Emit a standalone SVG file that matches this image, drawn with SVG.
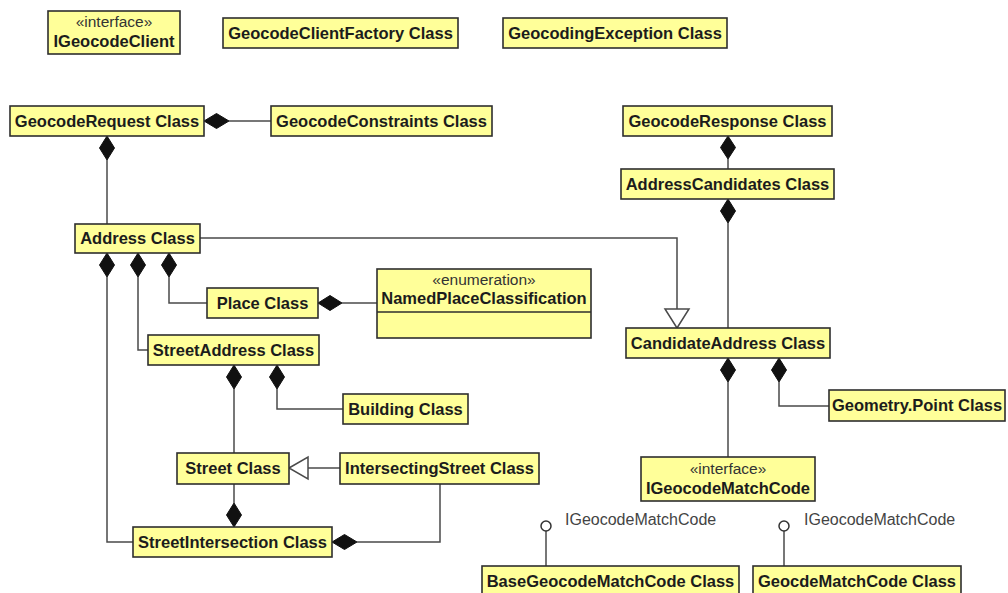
<svg xmlns="http://www.w3.org/2000/svg" width="1008" height="593" viewBox="0 0 1008 593">
<style>
.box{fill:#ffff99;stroke:#2e2e2e;stroke-width:1.6}
.n{font-family:"Liberation Sans",Arial,sans-serif;font-weight:bold;font-size:16.5px;fill:#1c1c1c;text-anchor:middle}
.st{font-family:"Liberation Sans",Arial,sans-serif;font-size:15.5px;fill:#333;text-anchor:middle}
.lbl{font-family:"Liberation Sans",Arial,sans-serif;font-size:16px;fill:#444}
.ln{fill:none;stroke:#4a4a4a;stroke-width:1.5}
.dia{fill:#111;stroke:#111;stroke-width:1}
.gen{fill:#fff;stroke:#4a4a4a;stroke-width:1.5}
.lol{fill:#fff;stroke:#333;stroke-width:1.5}
</style>
<rect width="1008" height="593" fill="#fff"/>
<g id="connectors">
  <polygon class="dia" points="204,121 216.5,113.5 229,121 216.5,128.5"/>
  <path class="ln" d="M229,121H271"/>
  <polygon class="dia" points="107,136 114.5,148 107,160 99.5,148"/>
  <path class="ln" d="M107,160V224"/>
  <polygon class="dia" points="728,136 735.5,147.5 728,159 720.5,147.5"/>
  <path class="ln" d="M728,159V169"/>
  <polygon class="dia" points="728,199 735.5,211 728,223 720.5,211"/>
  <path class="ln" d="M728,223V328"/>
  <path class="ln" d="M200,238H677V309"/>
  <polygon class="gen" points="665,309 689,309 677,328"/>
  <polygon class="dia" points="107,253 114.5,265 107,277 99.5,265"/>
  <path class="ln" d="M107,277V542H133"/>
  <polygon class="dia" points="138,253 145.5,265 138,277 130.5,265"/>
  <path class="ln" d="M138,277V350H148"/>
  <polygon class="dia" points="169,253 176.5,265 169,277 161.5,265"/>
  <path class="ln" d="M169,277V303H207"/>
  <polygon class="dia" points="318,303 330,295.5 342,303 330,310.5"/>
  <path class="ln" d="M342,303H377"/>
  <polygon class="dia" points="234,365 241.5,377 234,389 226.5,377"/>
  <path class="ln" d="M234,389V453"/>
  <polygon class="dia" points="277,365 284.5,377 277,389 269.5,377"/>
  <path class="ln" d="M277,389V409H343"/>
  <path class="ln" d="M308,468H340"/>
  <polygon class="gen" points="289,468 308,457 308,479"/>
  <path class="ln" d="M234,484V503"/>
  <polygon class="dia" points="234,503 241.5,515 234,527 226.5,515"/>
  <path class="ln" d="M440,484V542H357"/>
  <polygon class="dia" points="332,542 344.5,534.5 357,542 344.5,549.5"/>
  <polygon class="dia" points="728,358 735.5,370 728,382 720.5,370"/>
  <path class="ln" d="M728,382V457"/>
  <polygon class="dia" points="779,358 786.5,370 779,382 771.5,370"/>
  <path class="ln" d="M779,382V406H829"/>
  <path class="ln" d="M546,531V566"/>
  <circle class="lol" cx="546" cy="526" r="5"/>
  <text class="lbl" x="565" y="525">IGeocodeMatchCode</text>
  <path class="ln" d="M784,531V566"/>
  <circle class="lol" cx="784" cy="526" r="5"/>
  <text class="lbl" x="804" y="525">IGeocodeMatchCode</text>
</g>
<g id="IGeocodeClient">
  <rect class="box" x="48" y="11" width="132" height="43"/>
  <text class="st" x="114" y="27">«interface»</text>
  <text class="n" x="114" y="46.5">IGeocodeClient</text>
</g>
<g id="GeocodeClientFactory">
  <rect class="box" x="223" y="18" width="235" height="30"/>
  <text class="n" x="340.5" y="38.5">GeocodeClientFactory Class</text>
</g>
<g id="GeocodingException">
  <rect class="box" x="503" y="18" width="224" height="30"/>
  <text class="n" x="615" y="38.5">GeocodingException Class</text>
</g>
<g id="GeocodeRequest">
  <rect class="box" x="10" y="106" width="194" height="30"/>
  <text class="n" x="107" y="126.5">GeocodeRequest Class</text>
</g>
<g id="GeocodeConstraints">
  <rect class="box" x="271" y="106" width="221" height="30"/>
  <text class="n" x="381.5" y="126.5">GeocodeConstraints Class</text>
</g>
<g id="GeocodeResponse">
  <rect class="box" x="623" y="106" width="209" height="30"/>
  <text class="n" x="727.5" y="126.5">GeocodeResponse Class</text>
</g>
<g id="AddressCandidates">
  <rect class="box" x="621" y="169" width="213" height="30"/>
  <text class="n" x="727.5" y="189.5">AddressCandidates Class</text>
</g>
<g id="Address">
  <rect class="box" x="75" y="224" width="125" height="29"/>
  <text class="n" x="137.5" y="244">Address Class</text>
</g>
<g id="Place">
  <rect class="box" x="207" y="288" width="111" height="30"/>
  <text class="n" x="262.5" y="308.5">Place Class</text>
</g>
<g id="NamedPlaceClassification">
  <rect class="box" x="377" y="269" width="214" height="69"/>
  <path d="M377,312H591" stroke="#2e2e2e" stroke-width="1.6"/>
  <text class="st" x="484" y="285">«enumeration»</text>
  <text class="n" x="484" y="304">NamedPlaceClassification</text>
</g>
<g id="StreetAddress">
  <rect class="box" x="148" y="335" width="171" height="30"/>
  <text class="n" x="233.5" y="355.5">StreetAddress Class</text>
</g>
<g id="Building">
  <rect class="box" x="343" y="394" width="125" height="30"/>
  <text class="n" x="405.5" y="414.5">Building Class</text>
</g>
<g id="Street">
  <rect class="box" x="177" y="453" width="112" height="31"/>
  <text class="n" x="233" y="474">Street Class</text>
</g>
<g id="IntersectingStreet">
  <rect class="box" x="340" y="453" width="199" height="31"/>
  <text class="n" x="439.5" y="474">IntersectingStreet Class</text>
</g>
<g id="StreetIntersection">
  <rect class="box" x="133" y="527" width="199" height="30"/>
  <text class="n" x="232.5" y="547.5">StreetIntersection Class</text>
</g>
<g id="CandidateAddress">
  <rect class="box" x="626" y="328" width="204" height="30"/>
  <text class="n" x="728" y="348.5">CandidateAddress Class</text>
</g>
<g id="GeometryPoint">
  <rect class="box" x="829" y="390" width="176" height="31"/>
  <text class="n" x="917" y="411">Geometry.Point Class</text>
</g>
<g id="IGeocodeMatchCode">
  <rect class="box" x="641" y="457" width="174" height="44"/>
  <text class="st" x="728" y="474">«interface»</text>
  <text class="n" x="728" y="494">IGeocodeMatchCode</text>
</g>
<g id="BaseGeocodeMatchCode">
  <rect class="box" x="482" y="566" width="257" height="30"/>
  <text class="n" x="610.5" y="586.5">BaseGeocodeMatchCode Class</text>
</g>
<g id="GeocdeMatchCode">
  <rect class="box" x="753" y="566" width="208" height="30"/>
  <text class="n" x="857" y="586.5">GeocdeMatchCode Class</text>
</g>
</svg>
